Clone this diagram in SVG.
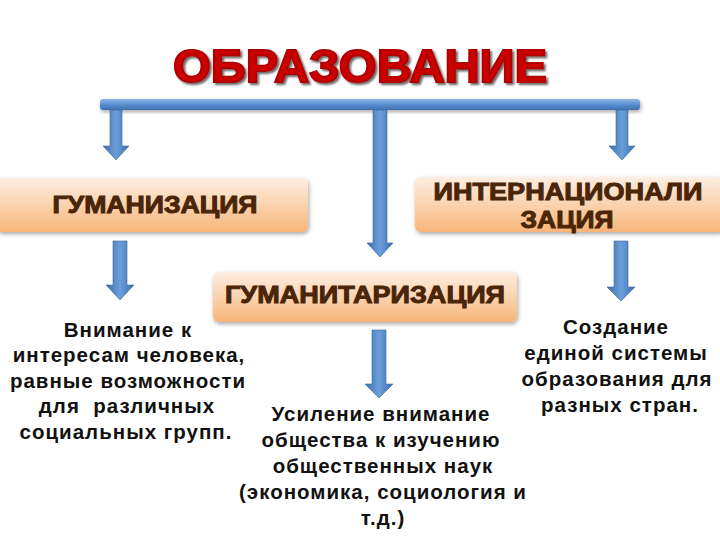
<svg xmlns="http://www.w3.org/2000/svg" width="720" height="540" viewBox="0 0 720 540">
<defs>
<linearGradient id="gBox" x1="0" y1="0" x2="0" y2="1">
<stop offset="0" stop-color="#fdeee2"/>
<stop offset="0.5" stop-color="#fbd3ae"/>
<stop offset="1" stop-color="#f8b57a"/>
</linearGradient>
<linearGradient id="gArr" x1="0" y1="0" x2="1" y2="0">
<stop offset="0" stop-color="#3c6ea8"/>
<stop offset="0.5" stop-color="#6b9fdc"/>
<stop offset="1" stop-color="#3c6ea8"/>
</linearGradient>
<linearGradient id="gBar" x1="0" y1="0" x2="0" y2="1">
<stop offset="0" stop-color="#8fb6e6"/>
<stop offset="0.5" stop-color="#5a8fd0"/>
<stop offset="1" stop-color="#3e6fae"/>
</linearGradient>
<filter id="sh" x="-10%" y="-20%" width="120%" height="150%">
<feGaussianBlur in="SourceAlpha" stdDeviation="2"/>
<feOffset dx="1" dy="2" result="b"/>
<feComponentTransfer><feFuncA type="linear" slope="0.35"/></feComponentTransfer>
<feMerge><feMergeNode/><feMergeNode in="SourceGraphic"/></feMerge>
</filter>
<filter id="tsh" x="-5%" y="-20%" width="110%" height="150%">
<feGaussianBlur in="SourceAlpha" stdDeviation="1.2"/>
<feOffset dx="1.5" dy="1.5"/>
<feComponentTransfer><feFuncA type="linear" slope="0.6"/></feComponentTransfer>
<feMerge><feMergeNode/><feMergeNode in="SourceGraphic"/></feMerge>
</filter>
</defs>
<style>
.box{fill:url(#gBox);filter:url(#sh);}
.arr{fill:url(#gArr);stroke:#3a6aa0;stroke-width:0.6;}
.lbl{font-family:"Liberation Sans",Arial,sans-serif;font-weight:bold;font-size:24px;fill:#4a2508;stroke:#4a2508;stroke-width:1;text-anchor:middle;}
.txt{font-family:"Liberation Sans",Arial,sans-serif;font-weight:bold;font-size:20.5px;letter-spacing:1px;fill:#111;text-anchor:middle;}
.title{font-family:"Liberation Sans",Arial,sans-serif;font-weight:bold;font-size:46px;fill:#cc0000;stroke:#b00000;stroke-width:2;text-anchor:middle;filter:url(#tsh);}
</style>
<rect width="720" height="540" fill="#ffffff"/>
<g id="title">
<text class="title" x="360" y="82" textLength="374" lengthAdjust="spacingAndGlyphs">ОБРАЗОВАНИЕ</text>
</g>
<g id="connectors">
<rect x="100" y="99" width="540" height="11" rx="3" fill="url(#gBar)" filter="url(#sh)"/>
<path class="arr" d="M110,110 H122 V146 H129 L116,160 L103,146 H110 Z"/>
<path class="arr" d="M373,110 H387 V243 H393 L380,257 L367,243 H373 Z"/>
<path class="arr" d="M616,110 H628 V146 H635 L622,160 L609,146 H616 Z"/>
<path class="arr" d="M113,241 H127 V285 H134 L120,300 L106,285 H113 Z"/>
<path class="arr" d="M614,241 H628 V287 H635 L621,301 L607,287 H614 Z"/>
<path class="arr" d="M372,330 H386 V384 H393 L379,398 L365,384 H372 Z"/>
</g>
<g id="gumanizaciya">
<rect class="box" x="-4" y="178" width="312" height="54" rx="6"/>
<text class="lbl" x="155" y="213" textLength="205" lengthAdjust="spacingAndGlyphs">ГУМАНИЗАЦИЯ</text>
</g>
<g id="internacionalizaciya">
<rect class="box" x="415" y="177" width="309" height="55" rx="6"/>
<text class="lbl" x="568" y="200" textLength="269" lengthAdjust="spacingAndGlyphs">ИНТЕРНАЦИОНАЛИ</text>
<text class="lbl" x="567" y="228" textLength="93" lengthAdjust="spacingAndGlyphs">ЗАЦИЯ</text>
</g>
<g id="gumanitarizaciya">
<rect class="box" x="213" y="272" width="304" height="50" rx="6"/>
<text class="lbl" x="365" y="303" textLength="280" lengthAdjust="spacingAndGlyphs">ГУМАНИТАРИЗАЦИЯ</text>
</g>
<g id="text-left">
<text class="txt" x="128" y="337">Внимание к</text>
<text class="txt" x="129" y="362">интересам человека,</text>
<text class="txt" x="128" y="388">равные возможности</text>
<text class="txt" x="127" y="413" xml:space="preserve">для  различных</text>
<text class="txt" x="126" y="439">социальных групп.</text>
</g>
<g id="text-middle">
<text class="txt" x="381" y="421">Усиление внимание</text>
<text class="txt" x="381" y="447">общества к изучению</text>
<text class="txt" x="383" y="473">общественных наук</text>
<text class="txt" x="383" y="499">(экономика, социология и</text>
<text class="txt" x="383" y="525">т.д.)</text>
</g>
<g id="text-right">
<text class="txt" x="616" y="334">Создание</text>
<text class="txt" x="616" y="360">единой системы</text>
<text class="txt" x="617" y="386">образования для</text>
<text class="txt" x="620" y="412">разных стран.</text>
</g>
</svg>
